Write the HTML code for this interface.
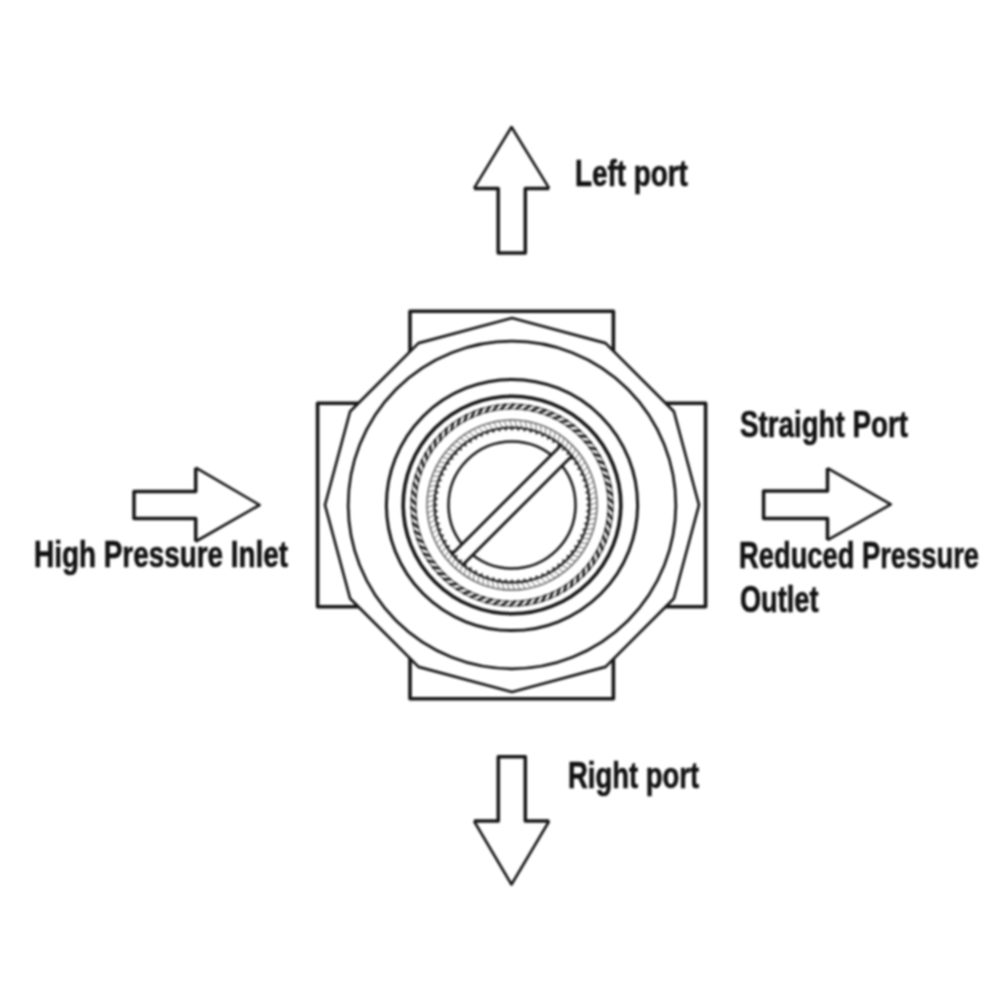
<!DOCTYPE html>
<html><head><meta charset="utf-8"><style>
html,body{margin:0;padding:0;background:#fff;}
body{width:1000px;height:1000px;position:relative;overflow:hidden;}
svg{position:absolute;left:0;top:0;}
#w{position:absolute;left:0;top:0;width:1000px;height:1000px;filter:blur(0.8px);}
.t{position:absolute;font-family:"Liberation Sans",sans-serif;font-weight:bold;font-size:36px;color:#111;-webkit-text-stroke:0.6px #111;white-space:nowrap;transform-origin:0 0;line-height:1;}
</style></head><body>
<div id="w">
<svg width="1000" height="1000" viewBox="0 0 1000 1000">
<g fill="#fff" stroke="#141414" stroke-linejoin="round">
<!-- port arrows -->
<path stroke="none" d="M511.5,127 L549.2,188.4 L525.3,188.4 L525.3,253 L498.2,253 L498.2,188.4 L474,188.4 Z"/>
<path fill="none" stroke-width="3.5" d="M549.2,188.4 L525.3,188.4 L525.3,253 L498.2,253 L498.2,188.4 L474,188.4"/>
<path fill="none" stroke-width="2.6" d="M549.2,188.4 L511.5,127 L474,188.4"/>
<path stroke="none" d="M511.5,884.5 L549.2,821 L525.3,821 L525.3,756.7 L498.3,756.7 L498.3,821 L474,821 Z"/>
<path fill="none" stroke-width="3.5" d="M549.2,821 L525.3,821 L525.3,756.7 L498.3,756.7 L498.3,821 L474,821"/>
<path fill="none" stroke-width="2.6" d="M549.2,821 L511.5,884.5 L474,821"/>
<path stroke="none" d="M259.6,505 L195.7,467.7 L195.7,491.5 L134,491.5 L134,518.5 L195.7,518.5 L195.7,541.5 Z"/>
<path fill="none" stroke-width="3.5" d="M195.7,467.7 L195.7,491.5 L134,491.5 L134,518.5 L195.7,518.5 L195.7,541.5"/>
<path fill="none" stroke-width="2.6" d="M195.7,467.7 L259.6,505 L195.7,541.5"/>
<path stroke="none" d="M890.8,504.4 L827.5,468.1 L827.5,491 L763.6,491 L763.6,518.5 L827.5,518.5 L827.5,540.1 Z"/>
<path fill="none" stroke-width="3.5" d="M827.5,468.1 L827.5,491 L763.6,491 L763.6,518.5 L827.5,518.5 L827.5,540.1"/>
<path fill="none" stroke-width="2.6" d="M827.5,468.1 L890.8,504.4 L827.5,540.1"/>
<!-- body rects -->
<rect x="410" y="311.2" width="203.4" height="387.5" stroke-width="3.6"/>
<rect x="317.6" y="403.2" width="388" height="203.6" stroke-width="3.6"/>
<polygon points="699.0,505.0 673.9,411.5 605.5,343.1 512.0,318.0 418.5,343.1 350.1,411.5 325.0,505.0 350.1,598.5 418.5,666.9 512.0,692.0 605.5,666.9 673.9,598.5" stroke-width="2.7"/>
<circle cx="512" cy="505" r="163.8" stroke-width="2.7"/>
<circle cx="512" cy="505" r="125.6" stroke-width="3"/>
<circle cx="512" cy="505" r="108.8" stroke-width="3.6"/>
<circle cx="512" cy="505" r="101" stroke-width="1.1" fill="none" stroke="#333"/>
<path d="M608.00,505.00L612.99,511.57M607.69,512.72L612.13,519.68M606.76,520.40L610.62,527.69M605.21,527.97L608.48,535.55M603.06,535.40L605.71,543.21M600.32,542.63L602.33,550.63M597.00,549.61L598.36,557.75M593.14,556.31L593.84,564.53M588.75,562.67L588.78,570.92M583.86,568.66L583.23,576.89M578.50,574.24L577.21,582.39M572.71,579.36L570.78,587.38M566.53,584.01L563.96,591.84M560.00,588.14L556.80,595.74M553.15,591.73L549.35,599.05M546.04,594.76L541.66,601.75M538.71,597.21L533.78,603.83M531.20,599.06L525.76,605.26M523.57,600.30L517.65,606.04M515.87,600.92L509.50,606.17M508.13,600.92L501.37,605.64M500.43,600.30L493.30,604.46M492.80,599.06L485.36,602.63M485.29,597.21L477.59,600.17M477.96,594.76L470.04,597.09M470.85,591.73L462.77,593.42M464.00,588.14L455.81,589.17M457.47,584.01L449.22,584.38M451.29,579.36L443.04,579.07M445.50,574.24L437.30,573.28M440.14,568.66L432.05,567.05M435.25,562.67L427.32,560.41M430.86,556.31L423.13,553.42M427.00,549.61L419.53,546.11M423.68,542.63L416.52,538.54M420.94,535.40L414.13,530.74M418.79,527.97L412.38,522.79M417.24,520.40L411.27,514.71M416.31,512.72L410.81,506.57M416.00,505.00L411.01,498.43M416.31,497.28L411.87,490.32M417.24,489.60L413.38,482.31M418.79,482.03L415.52,474.45M420.94,474.60L418.29,466.79M423.68,467.37L421.67,459.37M427.00,460.39L425.64,452.25M430.86,453.69L430.16,445.47M435.25,447.33L435.22,439.08M440.14,441.34L440.77,433.11M445.50,435.76L446.79,427.61M451.29,430.64L453.22,422.62M457.47,425.99L460.04,418.16M464.00,421.86L467.20,414.26M470.85,418.27L474.65,410.95M477.96,415.24L482.34,408.25M485.29,412.79L490.22,406.17M492.80,410.94L498.24,404.74M500.43,409.70L506.35,403.96M508.13,409.08L514.50,403.83M515.87,409.08L522.63,404.36M523.57,409.70L530.70,405.54M531.20,410.94L538.64,407.37M538.71,412.79L546.41,409.83M546.04,415.24L553.96,412.91M553.15,418.27L561.23,416.58M560.00,421.86L568.19,420.83M566.53,425.99L574.78,425.62M572.71,430.64L580.96,430.93M578.50,435.76L586.70,436.72M583.86,441.34L591.95,442.95M588.75,447.33L596.68,449.59M593.14,453.69L600.87,456.58M597.00,460.39L604.47,463.89M600.32,467.37L607.48,471.46M603.06,474.60L609.87,479.26M605.21,482.03L611.62,487.21M606.76,489.60L612.73,495.29M607.69,497.28L613.19,503.43" stroke-width="2.4" fill="none" stroke="#111"/>
<circle cx="512" cy="505" r="96.2" stroke-width="1.1" fill="none" stroke="#333"/>
<circle cx="512" cy="505" r="85" stroke-width="1.4" fill="none" stroke="#555"/>
<path d="M590.60,505.00L596.36,502.47M590.44,509.94L596.35,507.77M589.98,514.85L596.01,513.06M589.21,519.73L595.34,518.32M588.13,524.55L594.34,523.53M586.75,529.29L593.02,528.66M585.08,533.93L591.37,533.70M583.12,538.47L589.41,538.63M580.88,542.87L587.15,543.42M578.36,547.12L584.59,548.07M575.59,551.20L581.74,552.54M572.56,555.10L578.62,556.82M569.30,558.81L575.23,560.90M565.81,562.30L571.60,564.76M562.10,565.56L567.73,568.39M558.20,568.59L563.63,571.76M554.12,571.36L559.34,574.87M549.87,573.88L554.86,577.71M545.47,576.12L550.21,580.26M540.93,578.08L545.41,582.51M536.29,579.75L540.48,584.45M531.55,581.13L535.43,586.08M526.73,582.21L530.29,587.39M521.85,582.98L525.09,588.38M516.94,583.44L519.82,589.04M512.00,583.60L514.53,589.36M507.06,583.44L509.23,589.35M502.15,582.98L503.94,589.01M497.27,582.21L498.68,588.34M492.45,581.13L493.47,587.34M487.71,579.75L488.34,586.02M483.07,578.08L483.30,584.37M478.53,576.12L478.37,582.41M474.13,573.88L473.58,580.15M469.88,571.36L468.93,577.59M465.80,568.59L464.46,574.74M461.90,565.56L460.18,571.62M458.19,562.30L456.10,568.23M454.70,558.81L452.24,564.60M451.44,555.10L448.61,560.73M448.41,551.20L445.24,556.63M445.64,547.12L442.13,552.34M443.12,542.87L439.29,547.86M440.88,538.47L436.74,543.21M438.92,533.93L434.49,538.41M437.25,529.29L432.55,533.48M435.87,524.55L430.92,528.43M434.79,519.73L429.61,523.29M434.02,514.85L428.62,518.09M433.56,509.94L427.96,512.82M433.40,505.00L427.64,507.53M433.56,500.06L427.65,502.23M434.02,495.15L427.99,496.94M434.79,490.27L428.66,491.68M435.87,485.45L429.66,486.47M437.25,480.71L430.98,481.34M438.92,476.07L432.63,476.30M440.88,471.53L434.59,471.37M443.12,467.13L436.85,466.58M445.64,462.88L439.41,461.93M448.41,458.80L442.26,457.46M451.44,454.90L445.38,453.18M454.70,451.19L448.77,449.10M458.19,447.70L452.40,445.24M461.90,444.44L456.27,441.61M465.80,441.41L460.37,438.24M469.88,438.64L464.66,435.13M474.13,436.12L469.14,432.29M478.53,433.88L473.79,429.74M483.07,431.92L478.59,427.49M487.71,430.25L483.52,425.55M492.45,428.87L488.57,423.92M497.27,427.79L493.71,422.61M502.15,427.02L498.91,421.62M507.06,426.56L504.18,420.96M512.00,426.40L509.47,420.64M516.94,426.56L514.77,420.65M521.85,427.02L520.06,420.99M526.73,427.79L525.32,421.66M531.55,428.87L530.53,422.66M536.29,430.25L535.66,423.98M540.93,431.92L540.70,425.63M545.47,433.88L545.63,427.59M549.87,436.12L550.42,429.85M554.12,438.64L555.07,432.41M558.20,441.41L559.54,435.26M562.10,444.44L563.82,438.38M565.81,447.70L567.90,441.77M569.30,451.19L571.76,445.40M572.56,454.90L575.39,449.27M575.59,458.80L578.76,453.37M578.36,462.88L581.87,457.66M580.88,467.13L584.71,462.14M583.12,471.53L587.26,466.79M585.08,476.07L589.51,471.59M586.75,480.71L591.45,476.52M588.13,485.45L593.08,481.57M589.21,490.27L594.39,486.71M589.98,495.15L595.38,491.91M590.44,500.06L596.04,497.18" stroke-width="1.0" fill="none" stroke="#666"/>
<circle cx="512" cy="505" r="77.5" stroke-width="2.2" fill="none"/>
<path d="M589.37,502.89L585.90,505.00L589.37,507.11ZM589.28,509.29L585.65,511.10L588.93,513.49ZM588.66,515.65L584.89,517.16L587.97,519.82ZM587.52,521.95L583.64,523.14L586.49,526.04ZM585.86,528.13L581.90,529.00L584.49,532.12ZM583.70,534.15L579.68,534.69L582.01,538.01ZM581.05,539.97L576.99,540.17L579.04,543.68ZM577.93,545.55L573.87,545.42L575.62,549.09ZM574.35,550.86L570.32,550.39L571.76,554.19ZM570.35,555.85L566.37,555.05L567.49,558.96ZM565.96,560.49L562.05,559.37L562.85,563.35ZM561.19,564.76L557.39,563.32L557.86,567.35ZM556.09,568.62L552.42,566.87L552.55,570.93ZM550.68,572.04L547.17,569.99L546.97,574.05ZM545.01,575.01L541.69,572.68L541.15,576.70ZM539.12,577.49L536.00,574.90L535.13,578.86ZM533.04,579.49L530.14,576.64L528.95,580.52ZM526.82,580.97L524.16,577.89L522.65,581.66ZM520.49,581.93L518.10,578.65L516.29,582.28ZM514.11,582.37L512.00,578.90L509.89,582.37ZM507.71,582.28L505.90,578.65L503.51,581.93ZM501.35,581.66L499.84,577.89L497.18,580.97ZM495.05,580.52L493.86,576.64L490.96,579.49ZM488.87,578.86L488.00,574.90L484.88,577.49ZM482.85,576.70L482.31,572.68L478.99,575.01ZM477.03,574.05L476.83,569.99L473.32,572.04ZM471.45,570.93L471.58,566.87L467.91,568.62ZM466.14,567.35L466.61,563.32L462.81,564.76ZM461.15,563.35L461.95,559.37L458.04,560.49ZM456.51,558.96L457.63,555.05L453.65,555.85ZM452.24,554.19L453.68,550.39L449.65,550.86ZM448.38,549.09L450.13,545.42L446.07,545.55ZM444.96,543.68L447.01,540.17L442.95,539.97ZM441.99,538.01L444.32,534.69L440.30,534.15ZM439.51,532.12L442.10,529.00L438.14,528.13ZM437.51,526.04L440.36,523.14L436.48,521.95ZM436.03,519.82L439.11,517.16L435.34,515.65ZM435.07,513.49L438.35,511.10L434.72,509.29ZM434.63,507.11L438.10,505.00L434.63,502.89ZM434.72,500.71L438.35,498.90L435.07,496.51ZM435.34,494.35L439.11,492.84L436.03,490.18ZM436.48,488.05L440.36,486.86L437.51,483.96ZM438.14,481.87L442.10,481.00L439.51,477.88ZM440.30,475.85L444.32,475.31L441.99,471.99ZM442.95,470.03L447.01,469.83L444.96,466.32ZM446.07,464.45L450.13,464.58L448.38,460.91ZM449.65,459.14L453.68,459.61L452.24,455.81ZM453.65,454.15L457.63,454.95L456.51,451.04ZM458.04,449.51L461.95,450.63L461.15,446.65ZM462.81,445.24L466.61,446.68L466.14,442.65ZM467.91,441.38L471.58,443.13L471.45,439.07ZM473.32,437.96L476.83,440.01L477.03,435.95ZM478.99,434.99L482.31,437.32L482.85,433.30ZM484.88,432.51L488.00,435.10L488.87,431.14ZM490.96,430.51L493.86,433.36L495.05,429.48ZM497.18,429.03L499.84,432.11L501.35,428.34ZM503.51,428.07L505.90,431.35L507.71,427.72ZM509.89,427.63L512.00,431.10L514.11,427.63ZM516.29,427.72L518.10,431.35L520.49,428.07ZM522.65,428.34L524.16,432.11L526.82,429.03ZM528.95,429.48L530.14,433.36L533.04,430.51ZM535.13,431.14L536.00,435.10L539.12,432.51ZM541.15,433.30L541.69,437.32L545.01,434.99ZM546.97,435.95L547.17,440.01L550.68,437.96ZM552.55,439.07L552.42,443.13L556.09,441.38ZM557.86,442.65L557.39,446.68L561.19,445.24ZM562.85,446.65L562.05,450.63L565.96,449.51ZM567.49,451.04L566.37,454.95L570.35,454.15ZM571.76,455.81L570.32,459.61L574.35,459.14ZM575.62,460.91L573.87,464.58L577.93,464.45ZM579.04,466.32L576.99,469.83L581.05,470.03ZM582.01,471.99L579.68,475.31L583.70,475.85ZM584.49,477.88L581.90,481.00L585.86,481.87ZM586.49,483.96L583.64,486.86L587.52,488.05ZM587.97,490.18L584.89,492.84L588.66,494.35ZM588.93,496.51L585.65,498.90L589.28,500.71Z" stroke="none" fill="#222"/>
<circle cx="512" cy="505" r="63.5" stroke-width="2.5" fill="none"/>
<path d="M557.61,447.23L454.23,550.61L466.39,562.77L569.77,459.39Z" stroke="none" fill="#fff"/>
<path d="M560.81,445.44L452.44,553.81M463.19,564.56L571.56,456.19" stroke-width="2.8" fill="none"/>
</g>
</svg>
<div class="t" id="t1" style="left:575.25px;top:156.10px;transform:scaleX(0.7729);">Left port</div>
<div class="t" id="t2" style="left:739.73px;top:407.20px;transform:scaleX(0.7705);">Straight Port</div>
<div class="t" id="t3" style="left:739.18px;top:537.60px;transform:scaleX(0.7591);">Reduced Pressure</div>
<div class="t" id="t4" style="left:739.75px;top:582.15px;transform:scaleX(0.7544);">Outlet</div>
<div class="t" id="t5" style="left:33.95px;top:537.30px;transform:scaleX(0.7745);">High Pressure Inlet</div>
<div class="t" id="t6" style="left:568.22px;top:757.75px;transform:scaleX(0.7626);">Right port</div>
</div>
</body></html>
